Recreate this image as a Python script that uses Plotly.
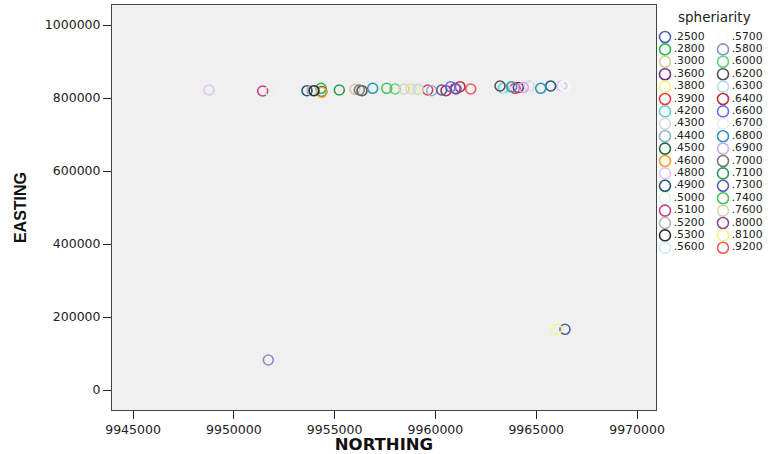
import plotly.graph_objects as go

# ---------------- data ----------------
categories = [".2500", ".2800", ".3000", ".3600", ".3800", ".3900", ".4200", ".4300",
              ".4400", ".4500", ".4600", ".4800", ".4900", ".5000", ".5100", ".5200",
              ".5300", ".5600", ".5700", ".5800", ".6000", ".6200", ".6300", ".6400",
              ".6600", ".6700", ".6800", ".6900", ".7000", ".7100", ".7300", ".7400",
              ".7600", ".8000", ".8100", ".9200"]
colors = ["#4a62c8", "#27b847", "#d4cd9a", "#7b2d8b", "#f7f37a", "#ec3b41", "#5fd0d4", "#d9d9d9",
          "#8fb3e0", "#1c6b3a", "#f7a02c", "#dcc6f2", "#1f5a78", "#dff7dc", "#cc3f82", "#b9b9b9",
          "#2f2f2f", "#cdeef4", "#fafafa", "#8d8fcc", "#5ed47a", "#555555", "#bcd9f2", "#b3363a",
          "#6d6cf2", "#ececec", "#2f97bd", "#c9acdf", "#7a7a7a", "#2f9b58", "#5660aa", "#4cc45d",
          "#dcd6ad", "#8f46ae", "#f6f48a", "#f05a5e"]

northing = [9948770, 9951433, 9951796, 9953631, 9953879, 9953978, 9954325, 9954360,
            9954360, 9955233, 9956012, 9956225, 9956359, 9956890, 9957584, 9957996,
            9958442, 9958988, 9958790, 9959150, 9959618, 9959816, 9960312, 9960526,
            9960759, 9961022, 9960980, 9961220, 9961751, 9963204, 9963368, 9963470,
            9963785, 9963950, 9964112, 9964360, 9964658, 9964850, 9965223, 9965719,
            9966265, 9966400, 9951711, 9966017, 9966428]
easting = [821900, 819200, 819200, 820000, 820000, 820000, 826600, 815600,
           817800, 821900, 823800, 821900, 820000, 826600, 826600, 824700,
           824700, 824700, 824700, 823500, 821900, 820000, 821900, 820000,
           831000, 824700, 826000, 831000, 824700, 832900, 826600, 825800,
           831000, 826600, 828800, 828800, 832900, 830500, 826600, 832900,
           832900, 832900, 82200, 166300, 166300]
sphericity = [".4800", ".5100", ".6700", ".4900", ".5200", ".5300", ".2800", ".4600",
              ".4500", ".7100", ".3000", ".7000", ".6200", ".6800", ".7400", ".6000",
              ".7600", ".3800", ".4300", ".6300", ".3900", ".4400", ".7300", ".6400",
              ".6600", ".2500", ".8000", ".6400", ".9200", ".6200", ".4200", ".5600",
              ".6800", ".3900", ".3600", ".6900", ".4800", ".5000", ".6800", ".4900",
              ".4800", ".5700", ".5800", ".8100", ".7300"]

x_ticks = [9945000, 9950000, 9955000, 9960000, 9965000, 9970000]
y_ticks = [0, 200000, 400000, 600000, 800000, 1000000]

legend_title = "spheriarity"
x_title = "NORTHING"
y_title = "EASTING"

# ---------------- figure ----------------
fig = go.Figure()
color_of = dict(zip(categories, colors))

for cat in categories:
    xs = [n for n, s in zip(northing, sphericity) if s == cat]
    ys = [e for e, s in zip(easting, sphericity) if s == cat]
    if not xs:
        continue
    fig.add_trace(go.Scatter(
        x=xs, y=ys, mode="markers", name=cat, showlegend=False,
        marker=dict(symbol="circle-open", size=10, color=color_of[cat],
                    line=dict(width=1.6, color=color_of[cat])),
        xaxis="x", yaxis="y"))

# custom two-column legend (column units / row units on auxiliary axes)
rows_per_col = (len(categories) + 1) // 2
leg_col = [i // rows_per_col for i in range(len(categories))]
leg_row = [i % rows_per_col for i in range(len(categories))]
fig.add_trace(go.Scatter(
    x=leg_col, y=leg_row, mode="markers", showlegend=False, hoverinfo="skip",
    marker=dict(symbol="circle-open", size=11, color=colors,
                line=dict(width=1.6, color=colors)),
    xaxis="x2", yaxis="y2"))
fig.add_trace(go.Scatter(
    x=[c + 0.15 for c in leg_col], y=leg_row, mode="text", text=categories,
    textposition="middle right", showlegend=False, hoverinfo="skip",
    textfont=dict(family="DejaVu Sans", size=10.8, color="#222222"),
    xaxis="x2", yaxis="y2"))

annotations = [dict(x=0.86, y=-1.6, xref="x2", yref="y2", text=legend_title,
                    showarrow=False, xanchor="center", yanchor="middle",
                    font=dict(family="DejaVu Sans", size=13.5, color="#222222"))]

W, H = 773, 454
ml, mt, mb = 112, 5, 44
paper_w = W - ml
main_right = (656 - ml) / paper_w
leg_left = (658 - ml) / paper_w

tick_font = dict(family="DejaVu Sans", size=12.5, color="#222222")

fig.update_layout(
    width=W, height=H, autosize=False,
    margin=dict(l=ml, r=0, t=mt, b=mb, autoexpand=False),
    paper_bgcolor="white",
    plot_bgcolor="white",
    showlegend=False,
    annotations=annotations,
    shapes=[dict(type="rect", xref="x domain", yref="y domain", x0=0, x1=1, y0=0, y1=1,
                 fillcolor="#f0f0f0", line=dict(width=0), layer="below")],
    xaxis=dict(domain=[0, main_right], range=[9943958, 9970942],
               tickvals=x_ticks, ticktext=[str(v) for v in x_ticks],
               ticks="outside", ticklen=8, tickcolor="#222222", tickwidth=1,
               showline=True, mirror=True, linecolor="#444444", linewidth=1,
               showgrid=False, zeroline=False, tickfont=tick_font, automargin=False,
               title=dict(text=x_title, standoff=6,
                          font=dict(family="DejaVu Sans", size=16.5, weight="bold", color="#111111"))),
    yaxis=dict(range=[-54795, 1054795],
               tickvals=y_ticks, ticktext=[str(v) for v in y_ticks],
               ticks="outside", ticklen=8, tickcolor="#222222", tickwidth=1,
               showline=True, mirror=True, linecolor="#444444", linewidth=1,
               showgrid=False, zeroline=False, tickfont=tick_font, automargin=False,
               title=dict(text=y_title, standoff=14,
                          font=dict(family="Liberation Sans Narrow, Arial Narrow, Liberation Sans",
                                    size=16, weight="bold", color="#111111"))),
    xaxis2=dict(domain=[leg_left, 1], range=[-0.1207, 1.862], visible=False,
                fixedrange=True),
    yaxis2=dict(domain=[0, 1], range=[30.08, -2.58], visible=False, anchor="x2",
                fixedrange=True),
)

fig.write_html("out.html",
               config={"displayModeBar": False, "responsive": False},
               post_script="document.body.style.margin='0';document.body.style.overflow='hidden';")
